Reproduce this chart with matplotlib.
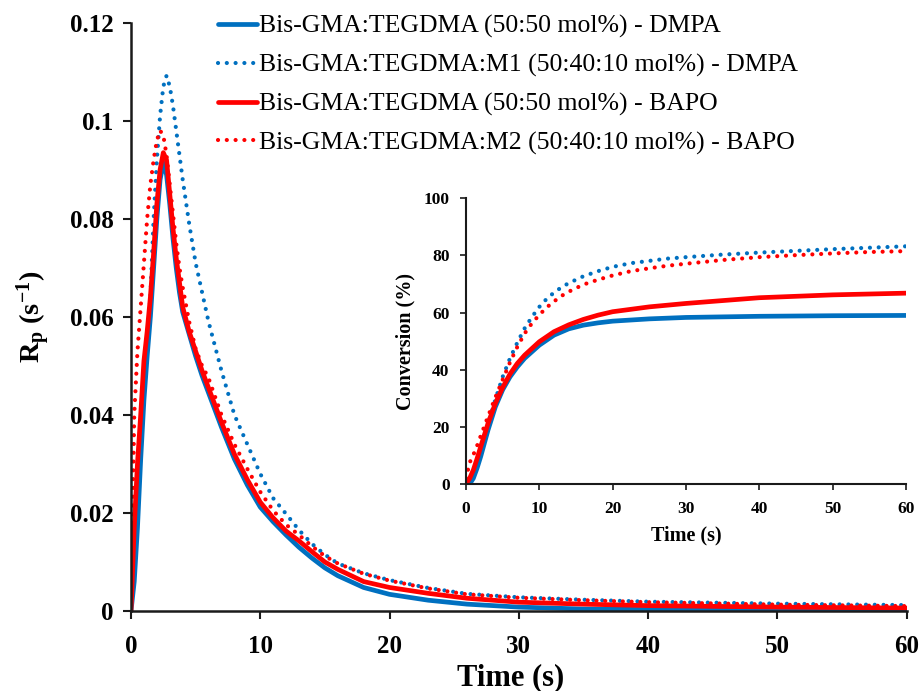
import matplotlib
matplotlib.use("Agg")
import matplotlib.pyplot as plt
from matplotlib.ticker import FixedLocator, FixedFormatter

plt.rcParams['font.family'] = ['Liberation Serif', 'DejaVu Serif']
plt.rcParams['mathtext.fontset'] = 'custom'
plt.rcParams['mathtext.rm'] = 'Liberation Serif'
plt.rcParams['mathtext.bf'] = 'Liberation Serif:bold'
plt.rcParams['mathtext.it'] = 'Liberation Serif:italic'

BLUE = '#0070C0'
RED = '#FF0000'
AXC = '#1a1a1a'

series_labels = [
    'Bis-GMA:TEGDMA (50:50 mol%) - DMPA',
    'Bis-GMA:TEGDMA:M1 (50:40:10 mol%) - DMPA',
    'Bis-GMA:TEGDMA (50:50 mol%) - BAPO',
    'Bis-GMA:TEGDMA:M2 (50:40:10 mol%) - BAPO',
]

# ---- polymerization rate, Rp (s^-1) vs time (s) ----
rp_time = [0, 0.25, 0.5, 0.75, 1.0, 1.25, 1.5, 1.75, 2.0, 2.25, 2.5, 2.75,
           3.0, 3.25, 3.5, 3.75, 4.0, 4.5, 5.0, 5.5, 6.0, 7.0, 8.0, 9.0,
           10, 11, 12, 13, 14, 15, 16, 18, 20, 23, 26, 30, 35, 40, 50, 60]

rp_dmpa = [0, 0.006, 0.017, 0.031, 0.043, 0.052, 0.060, 0.070, 0.080, 0.088,
           0.0914, 0.089, 0.083, 0.076, 0.070, 0.065, 0.061, 0.0565, 0.052,
           0.048, 0.0445, 0.0375, 0.031, 0.0257, 0.0212, 0.0182, 0.0155,
           0.0130, 0.0108, 0.0088, 0.0072, 0.0048, 0.0034, 0.0022, 0.0014,
           0.0008, 0.0004, 0.0003, 0.0002, 0.0001]

rp_m1_dmpa = [0, 0.008, 0.020, 0.033, 0.046, 0.055, 0.064, 0.080, 0.092,
              0.101, 0.107, 0.1092, 0.107, 0.103, 0.098, 0.093, 0.088,
              0.079, 0.071, 0.065, 0.059, 0.049, 0.040, 0.034, 0.028,
              0.023, 0.0198, 0.0165, 0.0137, 0.0115, 0.0097, 0.0077,
              0.0063, 0.0047, 0.0035, 0.0028, 0.0023, 0.0019, 0.0015, 0.0012]

rp_bapo = [0, 0.017, 0.030, 0.040, 0.051, 0.057, 0.064, 0.073, 0.083, 0.090,
           0.0935, 0.092, 0.085, 0.078, 0.072, 0.067, 0.062, 0.057, 0.053,
           0.049, 0.0455, 0.0385, 0.032, 0.0268, 0.0222, 0.019, 0.0163,
           0.0143, 0.0121, 0.0100, 0.0085, 0.0060, 0.0048, 0.0036, 0.0026,
           0.0018, 0.0014, 0.0011, 0.0008, 0.0006]

rp_m2_bapo = [0, 0.040, 0.053, 0.062, 0.071, 0.080, 0.087, 0.092, 0.096,
              0.098, 0.097, 0.093, 0.087, 0.081, 0.075, 0.070, 0.066,
              0.059, 0.0535, 0.050, 0.0475, 0.040, 0.034, 0.029, 0.0243,
              0.0205, 0.0176, 0.0155, 0.0132, 0.0112, 0.0097, 0.0076,
              0.0062, 0.0046, 0.0034, 0.0027, 0.0022, 0.0018, 0.0013, 0.0010]

# ---- double bond conversion (%) vs time (s) ----
conv_time_solid = [0, 0.5, 1, 1.5, 2, 3, 4, 5, 6, 7, 8, 10, 12, 14, 16, 18,
                   20, 25, 30, 40, 50, 60]
conv_dmpa = [0, 0, 2, 5.5, 9.6, 18.9, 27, 33, 37.5, 41, 44, 48.6, 52.1, 54.3,
             55.6, 56.4, 57, 57.8, 58.3, 58.7, 58.9, 59.0]
conv_bapo = [0, 2, 4.9, 8.8, 13, 21.2, 28.2, 33.8, 38.5, 42.2, 45.1, 49.8,
             53.3, 55.7, 57.6, 59.1, 60.3, 62, 63.2, 65.2, 66.2, 66.8]

conv_time_mod = [0, 0.5, 1, 1.5, 2, 3, 4, 5, 6, 7, 8, 9, 10, 11, 12, 13, 14,
                 16, 18, 20, 22.5, 25, 27.5, 30, 35, 40, 45, 50, 55, 60]
conv_m1_dmpa = [0, 1.5, 4, 8, 12.5, 21, 29.5, 37.5, 44, 49.5, 54.5, 58.5, 62,
                64.8, 67, 68.8, 70.3, 72.7, 74.5, 76, 77.3, 78.1, 78.9, 79.4,
                80.3, 81.0, 81.6, 82.2, 82.7, 83.2]
conv_m2_bapo = [2, 7.5, 10.2, 13.3, 16.8, 23.6, 30.3, 36.5, 42.6, 48, 52.7,
                56.3, 59.2, 61.8, 63.9, 65.8, 67.3, 69.8, 71.5, 73, 74.5, 75.5,
                76.4, 77.1, 78.4, 79.4, 80.1, 80.7, 81.2, 81.5]

time_ticks = [0, 10, 20, 30, 40, 50, 60]
rp_ticks = [0, 0.02, 0.04, 0.06, 0.08, 0.1, 0.12]
rp_tick_labels = ['0', '0.02', '0.04', '0.06', '0.08', '0.1', '0.12']
conv_ticks = [0, 20, 40, 60, 80, 100]

solid_kw = dict(linewidth=3.4, solid_capstyle='round', solid_joinstyle='round')
dot_kw = dict(linewidth=3.0, linestyle=(0, (0.01, 2.1)), dash_capstyle='round')

fig = plt.figure(figsize=(9.21, 6.91), dpi=100)

# main panel
ax = fig.add_axes([131 / 921, 1 - 611 / 691, 775.5 / 921, 588.3 / 691])
h1, = ax.plot(rp_time, rp_dmpa, color=BLUE, **solid_kw)
h2, = ax.plot(rp_time, rp_m1_dmpa, color=BLUE, **dot_kw)
h3, = ax.plot(rp_time, rp_bapo, color=RED, **solid_kw)
h4, = ax.plot(rp_time, rp_m2_bapo, color=RED, **dot_kw)
ax.set_xlim(0, 60)
ax.set_ylim(0, 0.12)
ax.xaxis.set_major_locator(FixedLocator(time_ticks))
ax.yaxis.set_major_locator(FixedLocator(rp_ticks))
ax.yaxis.set_major_formatter(FixedFormatter(rp_tick_labels))
for s in ('top', 'right'):
    ax.spines[s].set_visible(False)
for s in ('left', 'bottom'):
    ax.spines[s].set_linewidth(1.8)
    ax.spines[s].set_color(AXC)
ax.tick_params(axis='both', direction='out', length=5.5, width=1.5,
               color=AXC, labelsize=18)
ax.tick_params(axis='x', pad=12)
ax.tick_params(axis='y', pad=7)
for lab in ax.get_xticklabels() + ax.get_yticklabels():
    lab.set_fontweight('bold')
ax.set_xlabel('Time (s)', fontsize=22, fontweight='bold', va='top')
ax.xaxis.set_label_coords(0.49, -0.088)
ax.set_ylabel(r'$\mathbf{R_p\ (s^{-1})}$', fontsize=20.5)
ax.yaxis.set_label_coords(-0.100, 0.5)

leg = fig.legend([h1, h2, h3, h4], series_labels,
                 loc='upper left', bbox_to_anchor=(218 / 921, 1 - 15 / 691),
                 frameon=False, fontsize=18.5, handlelength=1.5,
                 handletextpad=0.1, labelspacing=0.6, borderpad=0,
                 borderaxespad=0)

# inset panel
ins = fig.add_axes([466 / 921, 1 - 484 / 691, 440 / 921, 285.7 / 691])
ins.plot(conv_time_solid, conv_dmpa, color=BLUE, **solid_kw)
ins.plot(conv_time_mod, conv_m1_dmpa, color=BLUE, **dot_kw)
ins.plot(conv_time_solid, conv_bapo, color=RED, **solid_kw)
ins.plot(conv_time_mod, conv_m2_bapo, color=RED, **dot_kw)
ins.set_xlim(0, 60)
ins.set_ylim(0, 100)
ins.xaxis.set_major_locator(FixedLocator(time_ticks))
ins.yaxis.set_major_locator(FixedLocator(conv_ticks))
for s in ('top', 'right'):
    ins.spines[s].set_visible(False)
for s in ('left', 'bottom'):
    ins.spines[s].set_linewidth(1.5)
    ins.spines[s].set_color(AXC)
ins.tick_params(axis='both', direction='out', length=4.3, width=1.2,
                color=AXC, labelsize=12.5)
ins.tick_params(axis='x', pad=8)
ins.tick_params(axis='y', pad=7.5)
for lab in ins.get_xticklabels() + ins.get_yticklabels():
    lab.set_fontweight('bold')
ins.set_xlabel('Time (s)', fontsize=14.5, fontweight='bold', labelpad=6)
ins.set_ylabel('Conversion (%)', fontsize=14.5, fontweight='bold', labelpad=6)

fig.savefig('out.png', dpi=100)
